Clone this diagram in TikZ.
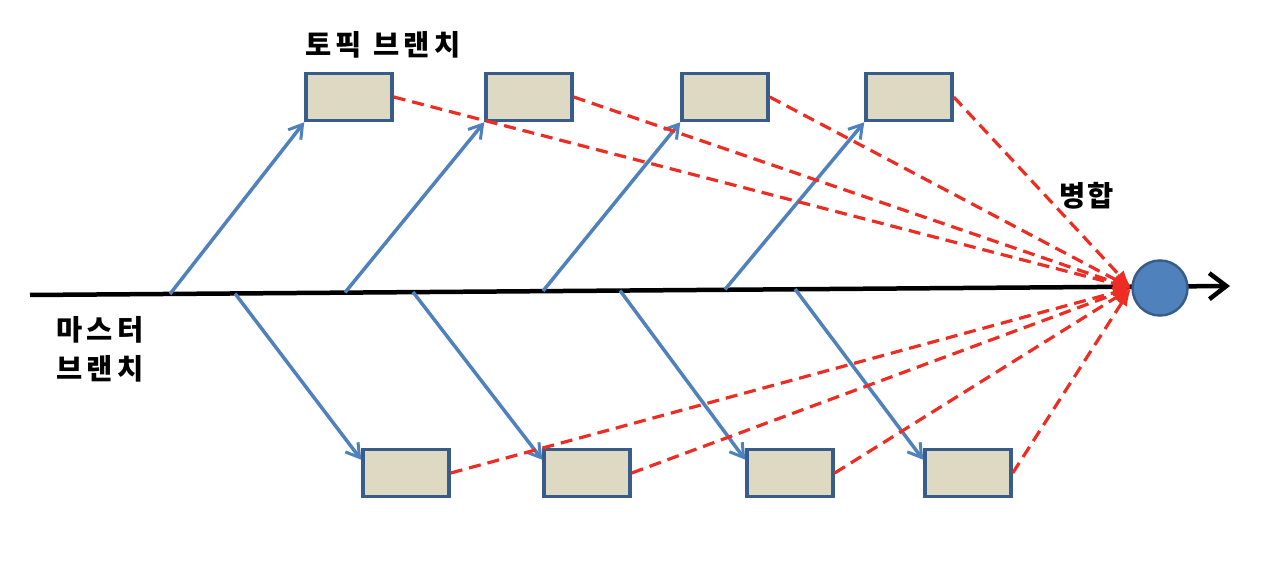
\documentclass[tikz,border=0pt]{standalone}
\usepackage{fontspec}
\newfontfamily\kr[LetterSpace=16]{Noto Sans CJK KR}
\usetikzlibrary{arrows.meta, positioning}
\definecolor{boxfill}{RGB}{221, 217, 195}
\definecolor{boxline}{RGB}{56, 93, 138}
\definecolor{branch}{RGB}{79, 129, 189}
\definecolor{merge}{RGB}{237, 45, 36}

\begin{document}
\begin{tikzpicture}[
        x=1pt, y=-1pt,
        topic/.style={rectangle, draw=boxline, line width=3.5pt, fill=boxfill,
                      minimum width=86pt, minimum height=47pt},
        fork/.style={-{Straight Barb[length=13pt, width=16pt, line width=3pt]}, branch, line width=3.5pt},
        mergearrow/.style={-{Latex[length=18pt, width=13pt]}, merge, line width=3.2pt, dash pattern=on 12pt off 7pt},
        label/.style={font=\kr\bfseries\fontsize{28.5}{36}\selectfont, inner sep=0pt},
    ]
        \useasboundingbox (0,0) rectangle (1275,569);

        % master line
        \coordinate (ms) at (30,295);
        \coordinate (me) at (1230,286);
        \draw[line width=4.5pt, -{Straight Barb[length=17pt, width=26pt, line width=4.5pt]}] (ms) -- (me);
        \node[circle, draw=boxline, line width=2.5pt, fill=branch, minimum size=55pt] (mrg) at (1160,288) {};

        % topic boxes
        \node[topic] (t1) at (349,97) {};
        \node[topic] (t2) at (529,97) {};
        \node[topic] (t3) at (725,97) {};
        \node[topic] (t4) at (909,97) {};
        \node[topic] (b1) at (406,473) {};
        \node[topic] (b2) at (587,473) {};
        \node[topic] (b3) at (790,473) {};
        \node[topic] (b4) at (968,473) {};

        % fork points on the master line
        \coordinate (u1) at (170,294);
        \coordinate (u2) at (345,292.5);
        \coordinate (u3) at (543,291);
        \coordinate (u4) at (725,289.5);
        \coordinate (d1) at (235,293.5);
        \coordinate (d2) at (413,292);
        \coordinate (d3) at (620,290.5);
        \coordinate (d4) at (795,289);

        \draw[fork] (u1) -- (t1.south west);
        \draw[fork] (u2) -- (t2.south west);
        \draw[fork] (u3) -- (t3.south west);
        \draw[fork] (u4) -- (t4.south west);
        \draw[fork] (d1) -- ([yshift=-12pt]b1.north west);
        \draw[fork] (d2) -- ([yshift=-12pt]b2.north west);
        \draw[fork] (d3) -- ([yshift=-12pt]b3.north west);
        \draw[fork] (d4) -- ([yshift=-12pt]b4.north west);

        % merges
        \foreach \n in {t1,t2,t3,t4,b1,b2,b3,b4}
            \draw[mergearrow] (\n.east) -- (mrg.west);

        \node[label] (topiclbl) at (383,45) {토픽 브랜치};
        \node[label, font=\kr\bfseries\fontsize{28.5}{36}\selectfont\addfontfeature{LetterSpace=6}] (mergelbl) at (1087,196) {병합};
        \node[label, anchor=west] (masterlbl) at (56,330) {마스터};
        \node[label, below=12pt of masterlbl.south west, anchor=north west] (masterlbl2) {브랜치};
\end{tikzpicture}
\end{document}
